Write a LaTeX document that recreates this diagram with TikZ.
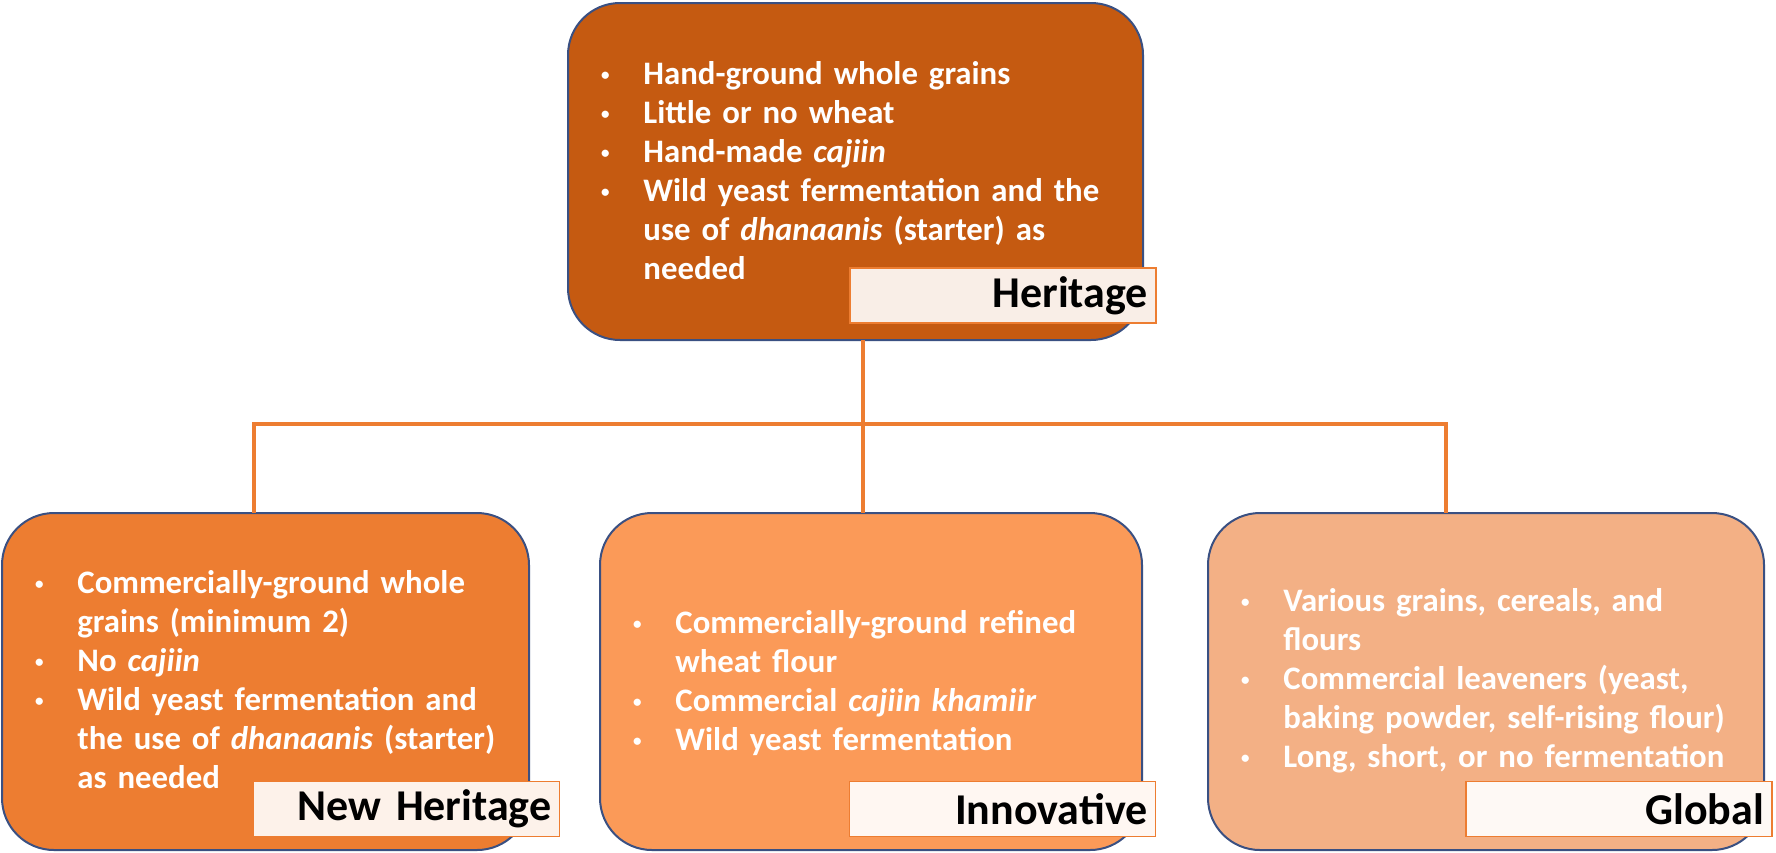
\documentclass[tikz,border=0pt]{standalone}
\usepackage{fontspec}
\setmainfont{Carlito}
\usetikzlibrary{positioning,calc}

\definecolor{heriC}{HTML}{C55A11}
\definecolor{newhC}{HTML}{ED7D31}
\definecolor{innovC}{HTML}{FB9A58}
\definecolor{globC}{HTML}{F3B085}
\definecolor{edgeC}{HTML}{3A5082}
\definecolor{linkC}{HTML}{ED7D31}

\tikzset{
  card/.style={draw=edgeC, line width=1pt, rounded corners=26pt, inner sep=0pt,
    outer sep=0pt, minimum height=168.5pt},
  pts/.style={text=white, inner sep=0pt, anchor=base west, text width=270pt,
    align=left, font=\fontsize{16.4}{19.5}\selectfont\bfseries},
  tag/.style={draw=linkC, line width=0.9pt, inner xsep=4pt, inner ysep=0pt,
    outer sep=0pt, text width=145pt, align=right, minimum height=27.5pt,
    font=\fontsize{22}{26}\selectfont\bfseries},
  link/.style={draw=linkC, line width=1.6pt}
}
% small bullet, and the indent for wrapped lines
\newcommand\bul{\makebox[19pt][l]{\makebox[0pt]{\raisebox{1.6pt}{\fontsize{8.5}{8.5}\selectfont\textbullet}}}}
\newcommand\nl{\newline\hspace*{19pt}}

\begin{document}
\begin{tikzpicture}[x=0.5pt,y=-0.5pt]
  \useasboundingbox (0,0) rectangle (1776,852);

  % boxes
  \node[card, fill=heriC, minimum width=287.5pt] (heri) at (855.5,171.5) {};
  \node[card, fill=newhC, minimum width=263.5pt] (newh) at (265.5,681.5) {};
  \node[card, fill=innovC, minimum width=271pt] (innov) at (871,681.5) {};
  \node[card, fill=globC, minimum width=278pt] (glob) at (1486,681.5) {};

  % bullet texts
  \node[pts] (heriT) at ($(heri.north west)+(37,81)$) {%
    \bul Hand-ground whole grains\\
    \bul Little or no wheat\\
    \bul Hand-made \textit{cajiin}\\
    \bul Wild yeast fermentation and the\nl use of \textit{dhanaanis} (starter) as\nl needed};
  \node[pts] (newhT) at ($(newh.north west)+(37,80)$) {%
    \bul Commercially-ground whole\nl grains (minimum 2)\\
    \bul No \textit{cajiin}\\
    \bul Wild yeast fermentation and\nl the use of \textit{dhanaanis} (starter)\nl as needed};
  \node[pts] (innovT) at ($(innov.north west)+(37,120)$) {%
    \bul Commercially-ground refined\nl wheat flour\\
    \bul Commercial \textit{cajiin khamiir}\\
    \bul Wild yeast fermentation};
  \node[pts] (globT) at ($(glob.north west)+(37,98)$) {%
    \bul Various grains, cereals, and\nl flours\\
    \bul Commercial leaveners (yeast,\nl baking powder, self-rising flour)\\
    \bul Long, short, or no fermentation};

  % name tags
  \node[tag, fill=white!90!heriC] (heriL) at (1003,295.5) {Heritage};
  \node[tag, fill=white!90!newhC] (newhL) at (406.5,809) {New Heritage};
  \node[tag, fill=white!92!innovC] (innovL) at (1002.5,809) {Innovative};
  \node[tag, fill=white!92!globC] (globL) at (1619,809) {Global};

  % connectors
  \coordinate (bus) at (0,424);
  \coordinate (newhTop) at ($(newh.north)+(-11.5,0)$);
  \coordinate (globTop) at ($(glob.north)+(-40,0)$);
  \draw[link] ($(heri.south)+(7.5,0)$) -- ($(innov.north)+(-8,0)$);
  \draw[link] (newhTop) -- (newhTop |- bus) -- (globTop |- bus) -- (globTop);
\end{tikzpicture}
\end{document}
